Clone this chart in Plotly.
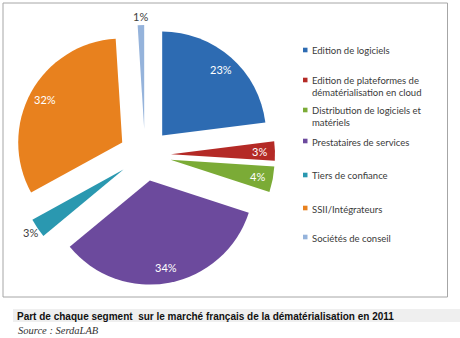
import math
import plotly.graph_objects as go

labels = ["Edition de logiciels",
          "Edition de plateformes de<br>dématérialisation en cloud",
          "Distribution de logiciels et<br>matériels",
          "Prestataires de services",
          "Tiers de confiance",
          "SSII/Intégrateurs",
          "Sociétés de conseil"]
values = [23, 3, 4, 34, 3, 32, 1]
colors = ["#2D6BB2", "#B42A26", "#7BAB36", "#6C4A9D", "#2A98B0", "#E8811E", "#95B3DB"]
label_inside = [True, True, True, True, False, True, False]
legend_y = [50, 80, 110, 141, 175, 208, 237]  # pixel y of each legend entry

W, H = 460, 338
PULL = 0.25
CX, CY, R = 145, 155, 104          # pie centre and radius in pixels
HALF = R * (1 + PULL)

fig = go.Figure()
fig.add_trace(go.Pie(
    labels=labels, values=values, sort=False, direction="clockwise", rotation=0,
    marker=dict(colors=colors, line=dict(width=0)),
    pull=[PULL] * len(values), automargin=False, textinfo="none",
    domain=dict(x=[(CX - HALF) / W, (CX + HALF) / W], y=[1 - (CY + HALF) / H, 1 - (CY - HALF) / H]),
    showlegend=False, hoverinfo="label+percent",
))

annotations = []
# percentage labels, positioned from the data (mid-angle of each slice)
total = sum(values)
cum = 0
for v, inside in zip(values, label_inside):
    theta = 2 * math.pi * (cum + v / 2) / total
    cum += v
    dist = PULL * R + (0.85 if inside else 1.08) * R
    px = CX + dist * math.sin(theta)
    py = CY - dist * math.cos(theta)
    annotations.append(dict(text=f"{v}%", xref="paper", yref="paper", x=px / W, y=1 - py / H,
                            xanchor="center", yanchor="middle", showarrow=False,
                            font=dict(family="Lato", size=11, color="white" if inside else "#404040")))

shapes = [
    dict(type="rect", xref="paper", yref="paper", x0=3 / W, x1=447.5 / W, y0=1 - 297 / H, y1=1 - 3 / H,
         line=dict(color="#A6A6A6", width=1), fillcolor="rgba(0,0,0,0)", layer="below"),
    dict(type="rect", xref="paper", yref="paper", x0=13 / W, x1=1, y0=1 - 322 / H, y1=1 - 309 / H,
         line=dict(width=0), fillcolor="#EFEFEF", layer="below"),
]
for lab, col, py in zip(labels, colors, legend_y):
    shapes.append(dict(type="rect", xref="paper", yref="paper",
                       x0=303 / W, x1=307.5 / W, y0=1 - (py + 2.3) / H, y1=1 - (py - 2.3) / H,
                       line=dict(width=0), fillcolor=col))
    annotations.append(dict(text=lab, xref="paper", yref="paper", x=310 / W, y=1 - (py - 6.5) / H,
                            xanchor="left", yanchor="top", showarrow=False, align="left",
                            font=dict(family="Lato", size=9.5, color="#3A3A3A")))
annotations.append(dict(text="<b>Part de chaque segment  sur le marché français de la dématérialisation en 2011</b>",
                        xref="paper", yref="paper", x=15 / W, y=1 - 316.5 / H, xanchor="left", yanchor="middle",
                        showarrow=False, font=dict(family="Liberation Sans", size=10, color="#111111")))
annotations.append(dict(text="<i>Source : SerdaLAB</i>", xref="paper", yref="paper", x=16 / W, y=1 - 330 / H,
                        xanchor="left", yanchor="middle", showarrow=False,
                        font=dict(family="Liberation Serif", size=10.5, color="#333333")))

fig.update_layout(width=W, height=H, margin=dict(l=0, r=0, t=0, b=0, autoexpand=False),
                  paper_bgcolor="white", plot_bgcolor="white",
                  shapes=shapes, annotations=annotations, showlegend=False)
fig.write_html("out.html")
